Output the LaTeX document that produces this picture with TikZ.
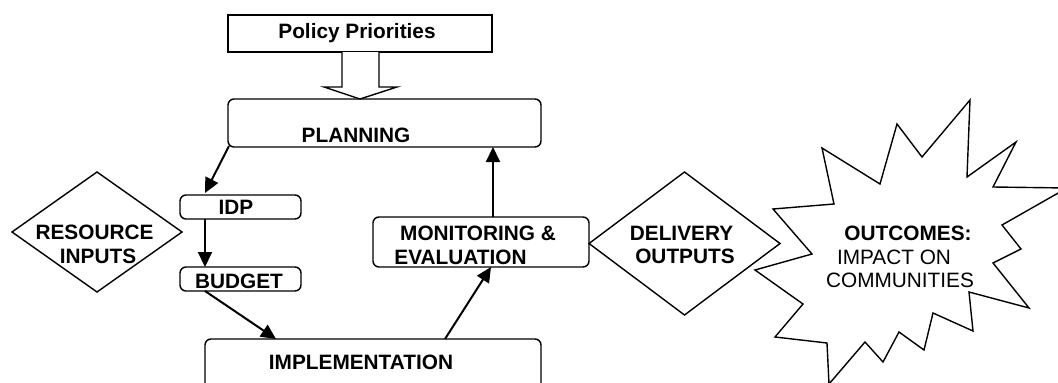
\documentclass[tikz,border=0pt]{standalone}
\usepackage{fontspec}
\setmainfont{Liberation Sans}
\usetikzlibrary{arrows.meta,calc,shapes.geometric}
\tikzset{
  shp/.style={draw, line width=1.4pt, inner sep=0pt, outer sep=0pt},
  rbox/.style={shp, rectangle, rounded corners=6pt},
  pbox/.style={shp, rectangle},
  dia/.style={shp, diamond},
  lbl/.style={font=\bfseries\fontsize{20.8}{24}\selectfont, inner sep=0pt},
  lbln/.style={font=\fontsize{20.8}{24}\selectfont, inner sep=0pt},
  arr/.style={line width=2pt, -{Triangle[length=15pt,width=14pt]}},
}
\begin{document}
\begin{tikzpicture}[x=1pt,y=-1pt]
\useasboundingbox (0,0) rectangle (1058,383);
\clip (0,0) rectangle (1058,383);
% shapes
\node[pbox, minimum width=264pt, minimum height=37pt] (policy) at (360,33.5) {};
\node[rbox, minimum width=313pt, minimum height=48pt] (planning) at (384.5,123) {};
\node[rbox, minimum width=121pt, minimum height=24pt] (idp) at (240.5,207) {};
\node[rbox, minimum width=121pt, minimum height=24pt] (budget) at (240.5,279) {};
\node[rbox, minimum width=336pt, minimum height=60pt] (impl) at (373,369) {};
\node[rbox, minimum width=216pt, minimum height=50pt] (me) at (481,242) {};
\node[dia, minimum width=170pt, minimum height=120pt] (res) at (97,232) {};
\node[dia, minimum width=191pt, minimum height=143pt] (del) at (684.5,243.5) {};
% starburst
\draw[line width=1.4pt] (970,100) -- (967,177) -- (1016,142) -- (993,187) -- (1067,188)
  -- (1002,225) -- (1021,249) -- (993,263) -- (1029,308) -- (969,292) -- (973,331)
  -- (933,313) -- (924,350) -- (899,332) -- (883,362) -- (865,342) -- (829,384)
  -- (827,343) -- (775,337) -- (803,304) -- (755,270) -- (812,254) -- (773,209)
  -- (834,204) -- (822,148) -- (880,184) -- (897,124) -- (922,157) -- cycle;
% texts
\node[lbl] (policyt) at (357,33.5) {Policy Priorities};
\node[lbl] (planningt) at (356,135) {PLANNING};
\node[lbl] (idpt) at (236,207) {IDP};
\node[lbl] (budgett) at (239,281) {BUDGET};
\node[lbl] (implt) at (361,362) {IMPLEMENTATION};
\node[lbl] (met1) at (478,233) {MONITORING \&};
\node[lbl] (met2) at (460.5,257) {EVALUATION};
\node[lbl] (rest1) at (94.5,232) {RESOURCE};
\node[lbl] (rest2) at (98,256) {INPUTS};
\node[lbl] (delt1) at (681.5,233) {DELIVERY};
\node[lbl] (delt2) at (685,256) {OUTPUTS};
\node[lbl] (outt1) at (908,233) {OUTCOMES:};
\node[lbln] (outt2) at (894,257) {IMPACT ON};
\node[lbln] (outt3) at (900,280) {COMMUNITIES};
% hollow arrow
\coordinate (htip) at ($(policy.south)+(0,47)$);
\draw[line width=1.4pt, fill=white, line join=miter]
  ($(policy.south)+(-18,0)$) -- ($(policy.south)+(-18,35)$) -- ($(policy.south)+(-36,35)$)
  -- (htip) -- ($(policy.south)+(37,35)$) -- ($(policy.south)+(19,35)$)
  -- ($(policy.south)+(19,0)$);
% connectors
\draw[arr] ($(planning.south west)+(1,-1)$) -- ($(idp.north west)+(25,-2)$);
\draw[arr] ($(idp.south west)+(25,0)$) -- ($(budget.north west)+(25,0)$);
\draw[arr] ($(budget.south west)+(25,0)$) -- ($(impl.north west)+(71,0)$);
\draw[arr] ($(impl.north west)+(240,0)$) -- ($(me.south west)+(118,0)$);
\draw[arr] ($(me.north west)+(120,0)$) -- ($(planning.south west)+(265,0)$);
\end{tikzpicture}
\end{document}
